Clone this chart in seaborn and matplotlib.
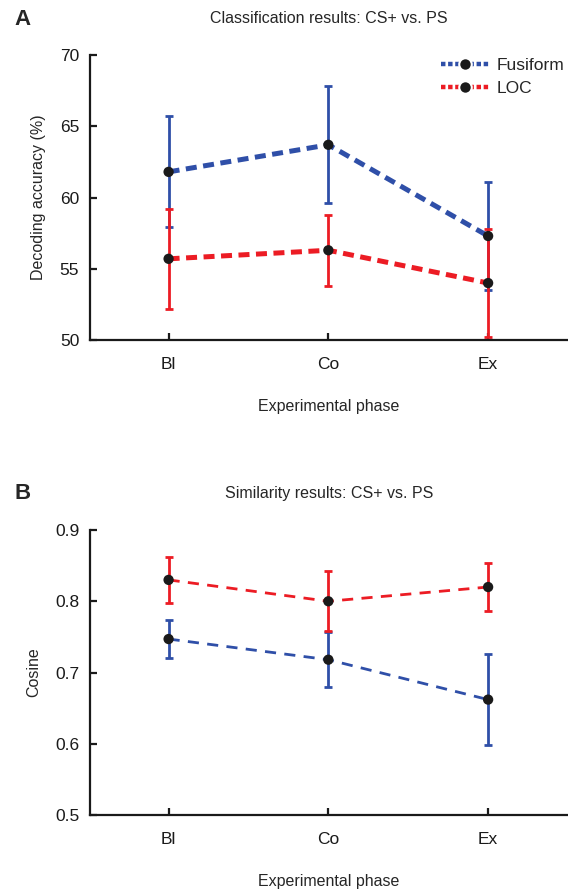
import pandas as pd
import numpy as np
import matplotlib
matplotlib.use("Agg")
import matplotlib.pyplot as plt
from matplotlib.lines import Line2D
import seaborn as sns

phases = ["Bl", "Co", "Ex"]
regions = ["Fusiform", "LOC"]

# panel A: decoding accuracy (%)
acc_fusiform = [61.8, 63.7, 57.3]
acc_fusiform_err = [3.9, 4.1, 3.8]
acc_loc = [55.7, 56.3, 54.0]
acc_loc_err = [3.5, 2.5, 3.8]

# panel B: cosine similarity
cos_fusiform = [0.747, 0.718, 0.662]
cos_fusiform_err = [0.027, 0.039, 0.064]
cos_loc = [0.830, 0.800, 0.820]
cos_loc_err = [0.032, 0.042, 0.034]

colors = {"Fusiform": "#2F4FA8", "LOC": "#EC1C24"}

sns.set_style("white")
plt.rcParams["font.family"] = ["Liberation Sans", "DejaVu Sans"]


def make_df(fus, fus_err, loc, loc_err):
    return pd.DataFrame({
        "phase": phases * 2,
        "region": ["Fusiform"] * 3 + ["LOC"] * 3,
        "value": fus + loc,
        "err": fus_err + loc_err,
    })


def draw_panel(ax, df, lw, dashes):
    for reg in regions:
        sub = df[df.region == reg]
        ax.errorbar(sub.phase, sub.value, yerr=sub.err, fmt="none",
                    ecolor=colors[reg], elinewidth=2, capsize=2.6,
                    capthick=2, zorder=2)
    n_before = len(ax.get_lines())
    sns.lineplot(data=df, x="phase", y="value", hue="region",
                 palette=colors, ax=ax, linewidth=lw, legend=False,
                 zorder=3)
    # only the new series lines get the dash pattern
    for line in ax.get_lines()[n_before:]:
        line.set_dashes(dashes)
    sns.scatterplot(data=df, x="phase", y="value", color="#1a1a1a",
                    s=55, edgecolor="none", ax=ax, zorder=4, legend=False)
    ax.set_xlim(-0.49, 2.5)
    sns.despine(ax=ax)
    for s in ["left", "bottom"]:
        ax.spines[s].set_linewidth(1.6)
        ax.spines[s].set_color("#1a1a1a")
    ax.tick_params(direction="in", length=5, width=1.6, labelsize=12.5,
                   left=True, bottom=True, colors="#1a1a1a")
    ax.tick_params(axis="x", pad=12)
    ax.tick_params(axis="y", pad=8)
    ax.set_xlabel("Experimental phase", fontsize=11.5, labelpad=20)


fig = plt.figure(figsize=(5.68, 8.89), dpi=100)
axA = fig.add_axes([0.159, 0.6175, 0.841, 0.3206])
axB = fig.add_axes([0.159, 0.0832, 0.841, 0.3206])

dfA = make_df(acc_fusiform, acc_fusiform_err, acc_loc, acc_loc_err)
draw_panel(axA, dfA, 3.6, (2.2, 1.3))
axA.set_ylim(50, 70)
axA.set_yticks([50, 55, 60, 65, 70])
axA.set_ylabel("Decoding accuracy (%)", fontsize=11.5, labelpad=10)
axA.set_title("Classification results: CS+ vs. PS", fontsize=11.5, pad=23)

dfB = make_df(cos_fusiform, cos_fusiform_err, cos_loc, cos_loc_err)
draw_panel(axB, dfB, 2.0, (4.0, 3.0))
axB.set_ylim(0.5, 0.9)
axB.set_yticks([0.5, 0.6, 0.7, 0.8, 0.9])
axB.set_ylabel("Cosine", fontsize=11.5, labelpad=10)
axB.set_title("Similarity results: CS+ vs. PS", fontsize=11.5, pad=23)

handles = [Line2D([0], [0], color=colors[r], lw=3.2, ls=(0, (1.0, 0.6)),
                  marker="o", markersize=9, markerfacecolor="#1a1a1a",
                  markeredgecolor="white", markeredgewidth=1.5)
           for r in regions]
axA.legend(handles, regions, loc="upper right", frameon=False,
           fontsize=12.5, handlelength=2.8, handletextpad=0.4,
           labelspacing=0.45, bbox_to_anchor=(1.025, 1.045))

fig.text(0.025, 0.978, "A", fontsize=16, fontweight="bold", va="center")
fig.text(0.025, 0.445, "B", fontsize=16, fontweight="bold", va="center")

fig.savefig("out.png", dpi=100)
